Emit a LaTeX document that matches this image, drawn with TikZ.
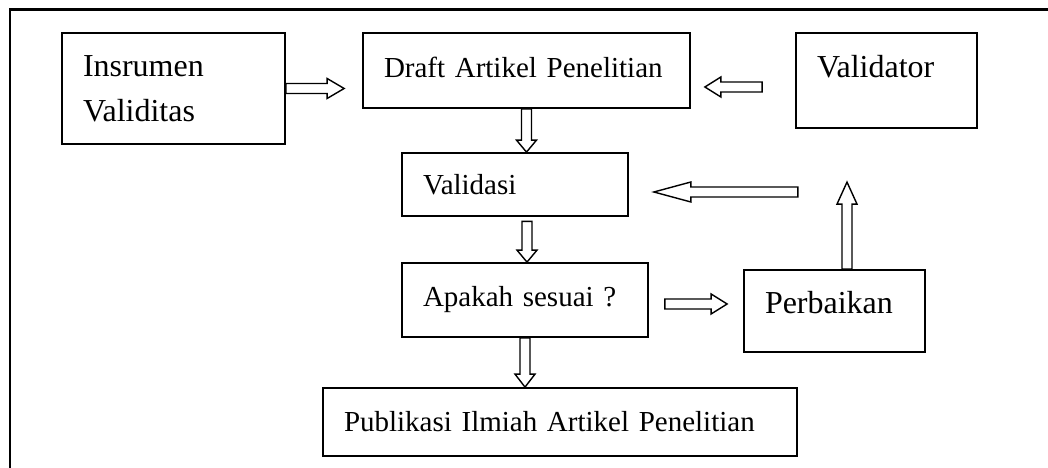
\documentclass[tikz,border=0pt]{standalone}
\usepackage{fontspec}
\setmainfont{Liberation Serif}
\usetikzlibrary{calc}

\newcommand{\tekskecil}{\fontsize{16.5}{20}\selectfont}
\newcommand{\teksbesar}{\fontsize{18.2}{25.6}\selectfont}

% panah blok berongga: [panjang kepala]{awal}{ujung}
\newcommand{\panahblok}[3][0.3cm]{%
  \path ($(#3)!#1!(#2)$) coordinate (kb);
  \draw[panah] ($(#2)!0.1cm!90:(#3)$) -- ($(kb)!0.1cm!90:(#3)$)
    -- ($(kb)!0.2cm!90:(#3)$) -- (#3) -- ($(kb)!0.2cm!-90:(#3)$)
    -- ($(kb)!0.1cm!-90:(#3)$) -- ($(#2)!0.1cm!-90:(#3)$) -- cycle;
}

\tikzset{
  kotak/.style={draw, line width=1pt, align=left, inner xsep=0.42cm,
    inner ysep=0pt, font=\tekskecil},
  panah/.style={line width=0.8pt, fill=white, line join=miter},
}

\begin{document}
\begin{tikzpicture}
    \useasboundingbox (0,0) rectangle (20.96,9.36);

    % bingkai
    \draw[line width=1.2pt] (0.2,0) -- (0.2,9.17) -- (20.96,9.17);

    % kotak
    \node[kotak, font=\teksbesar, text width=3.62cm, minimum height=2.22cm] (ins) at (3.47,7.59) {Insrumen\\Validitas};
    \node[kotak, text width=5.70cm, minimum height=1.5cm, text depth=0.12cm] (draft) at (10.53,7.95) {Draft Artikel Penelitian};
    \node[kotak, font=\teksbesar, text width=2.78cm, minimum height=1.9cm, text depth=0.58cm] (validator) at (17.73,7.75) {Validator};
    \node[kotak, text width=3.68cm, minimum height=1.26cm] (validasi) at (10.30,5.67) {Validasi};
    \node[kotak, text width=4.08cm, minimum height=1.48cm] (apakah) at (10.50,3.36) {Apakah sesuai ?};
    \node[kotak, font=\teksbesar, text width=2.78cm, minimum height=1.64cm, text depth=0.34cm] (perbaikan) at (16.69,3.14) {Perbaikan};
    \node[kotak, text width=8.64cm, minimum height=1.36cm] (publikasi) at (11.20,0.92) {Publikasi Ilmiah Artikel Penelitian};

    % ujung panah
    \coordinate (a1) at ($(ins.east -| draft.west)+(-0.36,0)$);
    \coordinate (a2s) at ($(validator.west)+(-0.66,-0.13)$);
    \coordinate (a2) at ($(draft.east)+(0.28,-0.33)$);
    \coordinate (a4s) at ($(validasi.east)+(3.38,-0.15)$);
    \coordinate (a4) at ($(validasi.east)+(0.5,-0.15)$);
    \coordinate (a5s) at ($(perbaikan.north)+(0.25,0)$);
    \coordinate (a5) at ($(perbaikan.north)+(0.25,1.74)$);
    \coordinate (a6s) at ($(validasi.south)+(0.24,-0.09)$);
    \coordinate (a6) at ($(apakah.north)+(0.04,0)$);
    \coordinate (a7s) at ($(apakah.east)+(0.32,-0.08)$);
    \coordinate (a7) at ($(perbaikan.west)+(-0.32,0.14)$);
    \coordinate (a3) at (draft.south |- validasi.north);
    \coordinate (a8) at (apakah.south |- publikasi.north);

    % panah
    \panahblok[0.34cm]{ins.east}{a1}
    \panahblok[0.32cm]{a2s}{a2}
    \panahblok[0.24cm]{draft.south}{a3}
    \panahblok[0.74cm]{a4s}{a4}
    \panahblok[0.44cm]{a5s}{a5}
    \panahblok[0.24cm]{a6s}{a6}
    \panahblok[0.32cm]{a7s}{a7}
    \panahblok[0.26cm]{apakah.south}{a8}

\end{tikzpicture}
\end{document}
